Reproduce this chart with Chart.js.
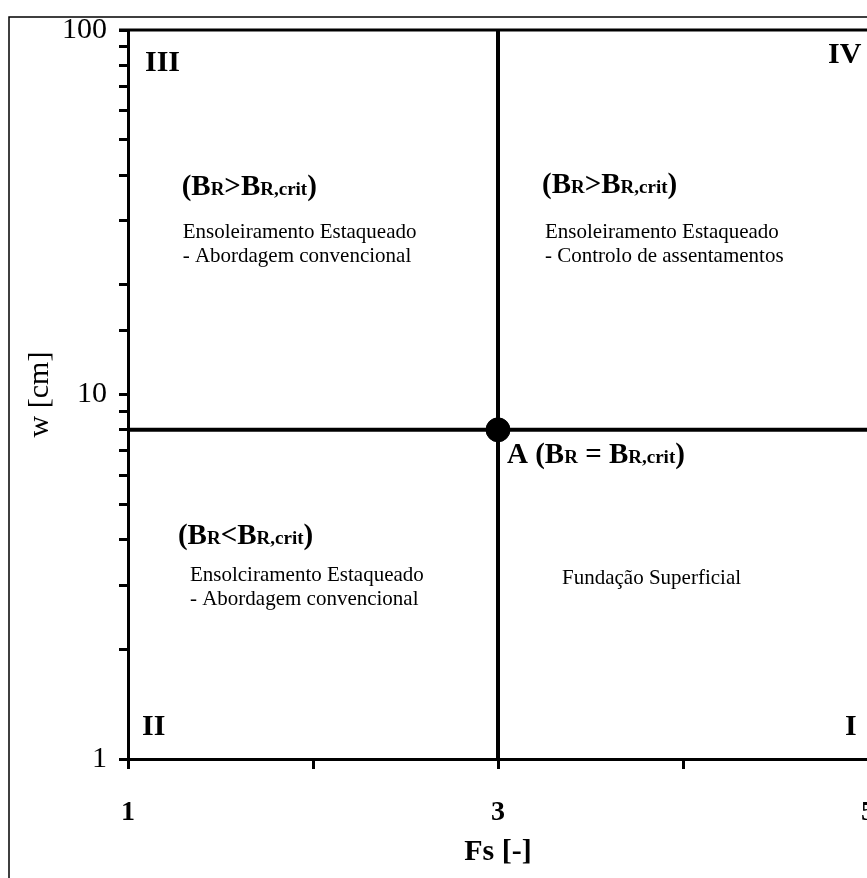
<!DOCTYPE html>
<html>
<head>
<meta charset="utf-8">
<script src="https://cdn.jsdelivr.net/npm/chart.js@4.4.0/dist/chart.umd.min.js"></script>
<style>
  html, body { margin: 0; padding: 0; background: #fff; overflow: hidden; }
  canvas { display: block; }
</style>
</head>
<body>
<canvas id="chart" width="890" height="878"></canvas>
<script>
// axis ranges and labelled ticks
const fsLimits = [1, 5];
const wLimits = [1, 100];
const fsTickValues = [1, 3, 5];
const wTickValues = [1, 10, 100];

// boundary lines through point A
const hLineFs = [1, 5];
const hLineW = [8, 8];
const vLineFs = [3, 3];
const vLineW = [1, 100];
const pointFs = [3];
const pointW = [8];

const serif = "'Liberation Serif', 'Times New Roman', serif";

// text placed in data coordinates (fs, w); dx/dy are pixel nudges per line
// "_" toggles the small size used for the R / R,crit subscripts
const notes = [
  { fs: 1.29, w: 35.3, lines: [
    { t: "(B_R_>B_R,crit_)", head: true, dx: 0, dy: 0 },
    { t: "Ensoleiramento Estaqueado", dx: 1, dy: 43 },
    { t: "- Abordagem convencional", dx: 1, dy: 67 } ] },
  { fs: 3.238, w: 35.8, lines: [
    { t: "(B_R_>B_R,crit_)", head: true, dx: 0, dy: 0 },
    { t: "Ensoleiramento Estaqueado", dx: 3, dy: 45 },
    { t: "- Controlo de assentamentos", dx: 3, dy: 69 } ] },
  { fs: 1.27, w: 3.9, lines: [
    { t: "(B_R_<B_R,crit_)", head: true, dx: 0, dy: 0 },
    { t: "Ensolciramento Estaqueado", dx: 12, dy: 37 },
    { t: "- Abordagem convencional", dx: 12, dy: 61 } ] },
  { fs: 3.346, w: 3.03, lines: [
    { t: "Fundação Superficial", dx: 0, dy: 0 } ] },
  { fs: 3, w: 8, lines: [
    { t: "A (B_R_ = B_R,crit_)", head: true, dx: 9, dy: 33 } ] }
];

const numerals = [
  { t: "III", fs: 1.092, w: 77 },
  { t: "IV", fs: 4.784, w: 81 },
  { t: "II", fs: 1.076, w: 1.163 },
  { t: "I", fs: 4.876, w: 1.163 }
];

function drawRuns(ctx, text, x, y) {
  const parts = text.split("_");
  parts.forEach((p, i) => {
    ctx.font = i % 2 ? "bold 19px " + serif : "bold 29px " + serif;
    ctx.fillText(p, x, y);
    x += ctx.measureText(p).width;
  });
}

const framePlugin = {
  id: "frame",
  beforeDraw(chart) {
    const ctx = chart.ctx;
    ctx.save();
    ctx.fillStyle = "#fff";
    ctx.fillRect(0, 0, chart.width, chart.height);
    ctx.strokeStyle = "#000";
    ctx.lineWidth = 1.5;
    ctx.beginPath();
    ctx.moveTo(9, chart.height);
    ctx.lineTo(9, 17);
    ctx.lineTo(chart.width, 17);
    ctx.stroke();
    ctx.restore();
  },
  afterDraw(chart) {
    const ctx = chart.ctx;
    const a = chart.chartArea;
    const sx = chart.scales.x, sy = chart.scales.y;
    ctx.save();
    // top edge of the plot box
    ctx.strokeStyle = "#000";
    ctx.lineWidth = 3;
    ctx.beginPath();
    ctx.moveTo(a.left - 9, a.top);
    ctx.lineTo(chart.width, a.top);
    ctx.stroke();

    ctx.fillStyle = "#000";
    ctx.textBaseline = "alphabetic";
    ctx.textAlign = "left";
    notes.forEach(n => {
      const px = sx.getPixelForValue(n.fs);
      const py = sy.getPixelForValue(n.w);
      n.lines.forEach(l => {
        if (l.head) {
          drawRuns(ctx, l.t, px + l.dx, py + l.dy);
        } else {
          ctx.font = "21px " + serif;
          ctx.fillText(l.t, px + l.dx, py + l.dy);
        }
      });
    });

    ctx.font = "bold 30px " + serif;
    numerals.forEach(n => {
      ctx.fillText(n.t, sx.getPixelForValue(n.fs), sy.getPixelForValue(n.w));
    });
    ctx.restore();
  }
};

new Chart(document.getElementById("chart"), {
  type: "scatter",
  data: {
    datasets: [
      {
        data: hLineFs.map((f, i) => ({ x: f, y: hLineW[i] })),
        showLine: true, borderColor: "#000", borderWidth: 4, pointRadius: 0
      },
      {
        data: vLineFs.map((f, i) => ({ x: f, y: vLineW[i] })),
        showLine: true, borderColor: "#000", borderWidth: 4, pointRadius: 0
      },
      {
        data: pointFs.map((f, i) => ({ x: f, y: pointW[i] })),
        pointRadius: 12, backgroundColor: "#000", borderColor: "#000"
      }
    ]
  },
  options: {
    responsive: false,
    animation: false,
    layout: { padding: { left: 8, top: 29, right: 22, bottom: 0 } },
    plugins: { legend: { display: false }, tooltip: { enabled: false } },
    scales: {
      x: {
        type: "linear",
        min: fsLimits[0],
        max: fsLimits[1],
        afterFit: s => {
          s.height = 119;
          // the label "5" runs off the page in the original, so no side padding
          s.paddingLeft = 0;
          s.paddingRight = 0;
        },
        border: { display: true, color: "#000", width: 3 },
        grid: { drawOnChartArea: false, tickLength: 10, tickWidth: 3, tickColor: "#000" },
        ticks: {
          stepSize: 1, autoSkip: false, maxRotation: 0, padding: 27, color: "#000",
          font: { family: serif, size: 28, weight: "bold" },
          callback: v => fsTickValues.includes(v) ? String(v) : ""
        },
        title: {
          display: true, text: "Fs [-]", color: "#000",
          font: { family: serif, size: 30, weight: "bold" },
          padding: { top: 0, bottom: 8 }
        }
      },
      y: {
        type: "logarithmic",
        min: wLimits[0],
        max: wLimits[1],
        afterFit: s => { s.width = 120; },
        border: { display: true, color: "#000", width: 3 },
        grid: { drawOnChartArea: false, tickLength: 9, tickWidth: 3, tickColor: "#000" },
        ticks: {
          autoSkip: false, padding: 12, color: "#000",
          font: { family: serif, size: 30 },
          callback: v => wTickValues.some(t => Math.abs(t - v) < 1e-6) ? String(v) : ""
        },
        title: {
          display: true, text: "w [cm]", color: "#000",
          font: { family: serif, size: 30 },
          padding: { top: 14, bottom: 0 }
        }
      }
    }
  },
  plugins: [framePlugin]
});
</script>
</body>
</html>
